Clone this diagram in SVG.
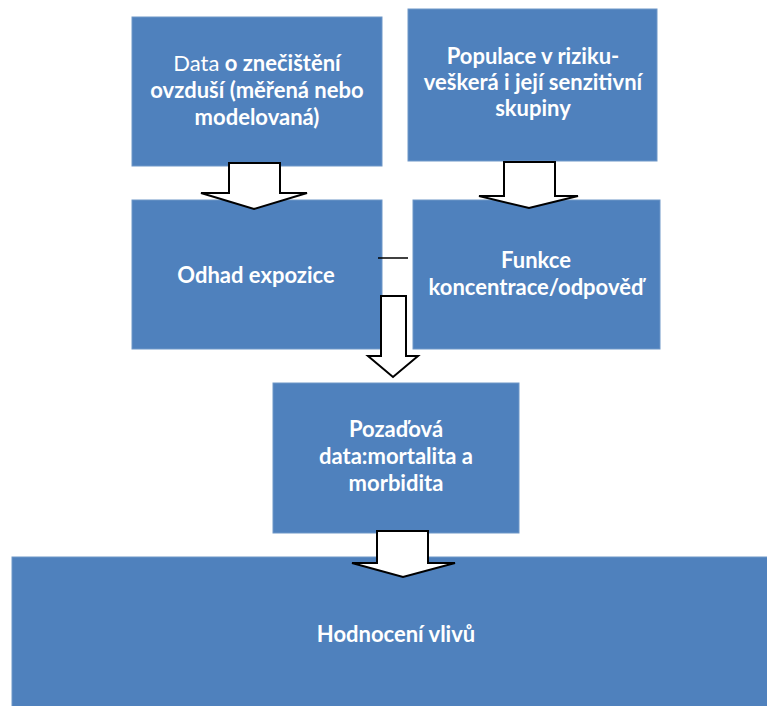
<svg xmlns="http://www.w3.org/2000/svg" width="767" height="706" viewBox="0 0 767 706">
<style>
.box{fill:#4f81bd;stroke:#6f97c8;stroke-width:1}
.t{font-family:Lato,"Open Sans","Liberation Sans",sans-serif;font-weight:bold;font-size:22px;fill:#ffffff;text-anchor:middle}
.r{font-weight:normal}
.arr{fill:#ffffff;stroke:#000000;stroke-width:2;stroke-linejoin:miter}
</style>
<rect width="767" height="706" fill="#ffffff"/>
<g id="node-data">
<rect class="box" x="132" y="17" width="250" height="149"/>
<text class="t" x="257" y="71"><tspan class="r">Data</tspan> o znečištění</text>
<text class="t" x="257" y="98">ovzduší (měřená nebo</text>
<text class="t" x="257" y="125">modelovaná)</text>
</g>
<g id="node-populace">
<rect class="box" x="408" y="9" width="249" height="152"/>
<text class="t" x="533" y="64">Populace v riziku-</text>
<text class="t" x="533" y="90">veškerá i její senzitivní</text>
<text class="t" x="533" y="116">skupiny</text>
</g>
<g id="node-odhad">
<rect class="box" x="132" y="200" width="250" height="149"/>
<text class="t" x="256" y="283">Odhad expozice</text>
</g>
<g id="node-funkce">
<rect class="box" x="413" y="200" width="247" height="149"/>
<text class="t" x="536" y="268">Funkce</text>
<text class="t" x="536" y="295">koncentrace/odpověď</text>
</g>
<g id="node-pozadova">
<rect class="box" x="273" y="383" width="246" height="150"/>
<text class="t" x="396" y="437">Pozaďová</text>
<text class="t" x="396" y="464">data:mortalita a</text>
<text class="t" x="396" y="491">morbidita</text>
</g>
<g id="node-hodnoceni">
<rect class="box" x="12" y="557" width="760" height="155"/>
<text class="t" x="396" y="642">Hodnocení vlivů</text>
</g>
<g id="connectors">
<polygon class="arr" points="229,163 280,163 280,193 307,193 254,209 201,193 229,193"/>
<polygon class="arr" points="504,162 555,162 555,196 578,196 529,208 479,196 504,196"/>
<polygon class="arr" points="381,296 406,296 406,356 418,356 393,377 368,356 381,356"/>
<polygon class="arr" points="377,531 428,531 428,563 455,563 403,577 352,563 377,563"/>
<line x1="378" y1="258" x2="408" y2="258" stroke="#000000" stroke-width="1.5"/>
</g>
</svg>
